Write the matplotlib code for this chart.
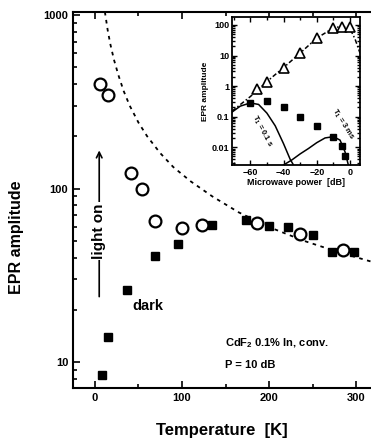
import matplotlib
matplotlib.use('Agg')
import matplotlib.pyplot as plt
from matplotlib.ticker import MultipleLocator, LogLocator, NullFormatter

plt.rcParams['font.family'] = ['Liberation Sans', 'DejaVu Sans']
plt.rcParams['font.weight'] = 'bold'
plt.rcParams['axes.labelweight'] = 'bold'
plt.rcParams['mathtext.fontset'] = 'custom'
plt.rcParams['mathtext.rm'] = 'Liberation Sans:bold'
plt.rcParams['mathtext.it'] = 'Liberation Sans:bold'

# main panel: EPR amplitude vs temperature
light_t = [6, 15, 42, 54, 69, 100, 123, 186, 236, 285]
light_amp = [400, 345, 123, 100, 65, 59, 62, 63, 55, 44]
dark_t = [8, 15, 37, 69, 96, 135, 173, 200, 222, 250, 272, 298]
dark_amp = [8.5, 14, 26, 41, 48, 62, 66, 61, 60, 54, 43, 43]
# dashed curve
curve_t = [11.5, 13, 15, 18, 22, 27, 33, 40, 50, 60, 75, 90, 110, 135, 165, 200, 240, 280, 317]
curve_amp = [1040, 930, 800, 670, 550, 450, 365, 300, 240, 200, 160, 133, 110, 90, 73, 60, 50, 43, 38]

# inset: EPR amplitude vs microwave power
tri_p = [-56, -50, -40, -30, -20, -10, -5, 0]
tri_amp = [0.8, 1.4, 3.9, 12, 37, 80, 85, 85]
sq_p = [-60, -50, -40, -30, -20, -10, -5, -3]
sq_amp = [0.28, 0.32, 0.2, 0.1, 0.05, 0.021, 0.011, 0.005]
dash_p = [-71, -60, -55, -50, -40, -30, -20, -10, -5, 0, 3, 6]
dash_amp = [0.15, 0.45, 0.8, 1.4, 4, 12, 37, 80, 90, 75, 35, 12]
fit1_p = [-71, -66, -60, -55, -50, -45, -40, -36, -34]
fit1_amp = [0.14, 0.22, 0.28, 0.25, 0.13, 0.05, 0.013, 0.004, 0.0026]
fit2_p = [-40, -35, -30, -25, -20, -15, -10, -6, -3, -1]
fit2_amp = [0.0026, 0.0038, 0.006, 0.009, 0.014, 0.02, 0.022, 0.017, 0.007, 0.0026]

fig = plt.figure(figsize=(3.71, 4.40), dpi=100)
ax = fig.add_axes([0.197, 0.118, 0.803, 0.855])
ax.set_yscale('log')

ax.plot(curve_t, curve_amp, ls=(0, (2, 2.5)), color='k', lw=1.3)
ax.plot(dark_t, dark_amp, 's', ms=6, color='k')
ax.plot(light_t, light_amp, 'o', ms=8.5, mfc='white', mec='k', mew=1.6)

ax.set_xlim(-25, 317)
ax.set_ylim(7.1, 1040)
ax.set_yticks([10, 100, 1000])
ax.set_yticklabels(['10', '100', '1000'])
ax.yaxis.set_minor_locator(LogLocator(base=10, subs=range(2, 10)))
ax.yaxis.set_minor_formatter(NullFormatter())
ax.xaxis.set_major_locator(MultipleLocator(100))
ax.xaxis.set_minor_locator(MultipleLocator(50))
ax.tick_params(which='both', direction='in', top=True, right=False, labelsize=8, width=1.2)
ax.tick_params(which='major', length=5)
ax.tick_params(which='minor', length=3)
for s in ['left', 'bottom', 'top']:
    ax.spines[s].set_linewidth(1.5)
ax.spines['right'].set_visible(False)

ax.set_xlabel('Temperature  [K]', fontsize=12)
ax.set_ylabel('EPR amplitude', fontsize=11.5)
ax.xaxis.set_label_coords(0.5, -0.093)
ax.yaxis.set_label_coords(-0.165, 0.40)

# light on arrow
ax.annotate('', xy=(5, 172), xytext=(5, 23),
            arrowprops=dict(arrowstyle='->', lw=1.2, color='k'))
ax.text(5, 57, 'light on', rotation=90, ha='center', va='center', fontsize=11,
        bbox=dict(fc='white', ec='none', pad=1))
ax.text(43, 21, 'dark', ha='left', va='center', fontsize=10.5)
ax.text(149, 12.9, 'CdF$_2$ 0.1% In, conv.', ha='left', va='center', fontsize=8)
ax.text(149, 9.6, 'P = 10 dB', ha='left', va='center', fontsize=8)

# inset
ins = fig.add_axes([0.6253, 0.625, 0.345, 0.336])
ins.set_yscale('log')
ins.plot(dash_p, dash_amp, ls=(0, (3, 1.5, 1, 1.5)), color='k', lw=1.1)
ins.plot(fit1_p, fit1_amp, '-', color='k', lw=1.1)
ins.plot(fit2_p, fit2_amp, '-', color='k', lw=1.1)
ins.plot(sq_p, sq_amp, 's', ms=4.5, color='k')
ins.plot(tri_p, tri_amp, '^', ms=7, mfc='white', mec='k', mew=1.2)
ins.set_xlim(-71, 6)
ins.set_ylim(0.0026, 180)
ins.set_yticks([0.01, 0.1, 1, 10, 100])
ins.set_yticklabels(['0.01', '0.1', '1', '10', '100'])
ins.yaxis.set_minor_locator(LogLocator(base=10, subs=range(2, 10)))
ins.yaxis.set_minor_formatter(NullFormatter())
ins.xaxis.set_major_locator(MultipleLocator(20))
ins.xaxis.set_minor_locator(MultipleLocator(10))
ins.tick_params(which='both', direction='in', top=True, right=True, labelsize=6.5, width=1, pad=2)
ins.tick_params(which='major', length=3.5)
ins.tick_params(which='minor', length=2)
for s in ins.spines.values():
    s.set_linewidth(1.3)
ins.set_xlabel('Microwave power  [dB]', fontsize=6.5, labelpad=1)
ins.set_ylabel('EPR amplitude', fontsize=6, labelpad=2)
ins.text(-52.8, 0.033, 'T$_1$ = 0.1 s', rotation=-62, ha='center', va='center', fontsize=5.5)
ins.text(-4.2, 0.056, 'T$_1$ = 3 ms', rotation=-58, ha='center', va='center', fontsize=5.5)

fig.savefig('out.png', dpi=100)
